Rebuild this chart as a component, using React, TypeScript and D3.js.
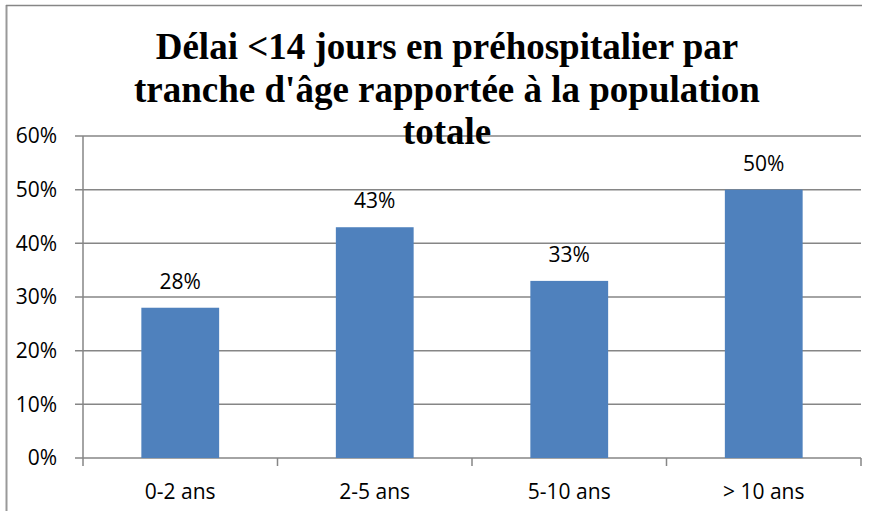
import React from "react";
import * as d3 from "d3";

const categories = ["0-2 ans", "2-5 ans", "5-10 ans", "> 10 ans"];
const values = [0.28, 0.43, 0.33, 0.5];
const yTicks = [0, 0.1, 0.2, 0.3, 0.4, 0.5, 0.6];
const titleLines = [
  "Délai <14 jours en préhospitalier par",
  "tranche d'âge rapportée à la population",
  "totale",
];

export default function App() {
  const W = 873, H = 511;
  const left = 83, right = 861, top = 136, bottom = 458;
  const x = d3.scaleBand<string>().domain(categories).range([left, right]).paddingInner(0.6).paddingOuter(0.3);
  const xb = d3.scaleBand<string>().domain(categories).range([left, right]);
  const y = d3.scaleLinear().domain([0, 0.6]).range([bottom, top]);
  const fmt = d3.format(".0%");
  const grid = "#868686";
  const font = "Open Sans, sans-serif";
  const fs = 21;
  const serif = "'Liberation Serif', 'Times New Roman', Times, Tinos, 'DejaVu Serif', 'Noto Serif', serif";
  return (
    <svg width={W} height={H} style={{ position: "absolute", left: 0, top: 0 }}>
      <rect x={0} y={0} width={W} height={H} fill="#fff" />
      <line x1={6.5} x2={6.5} y1={5} y2={H} stroke="#999" strokeWidth={2} />
      <line x1={6} x2={862} y1={5.5} y2={5.5} stroke={grid} strokeWidth={1.5} />
      {yTicks.map((t) => (
        <g key={t}>
          <line x1={75} x2={right} y1={y(t)} y2={y(t)} stroke={grid} strokeWidth={1.5} />
          <text x={57} y={y(t)} dy="0.35em" textAnchor="end" fontFamily={font} fontSize={fs} fill="#000">
            {fmt(t)}
          </text>
        </g>
      ))}
      <line x1={left} x2={left} y1={top} y2={bottom} stroke={grid} strokeWidth={1.5} />
      {categories.map((c, i) => (
        <line key={"t" + i} x1={xb(c)!} x2={xb(c)!} y1={bottom} y2={bottom + 8} stroke={grid} strokeWidth={1.5} />
      ))}
      <line x1={right} x2={right} y1={bottom} y2={bottom + 8} stroke={grid} strokeWidth={1.5} />
      {categories.map((c, i) => (
        <g key={c}>
          <rect x={x(c)!} y={y(values[i])} width={x.bandwidth()} height={bottom - y(values[i])} fill="#4F81BD" />
          <text x={x(c)! + x.bandwidth() / 2} y={y(values[i]) - 19} textAnchor="middle" fontFamily={font} fontSize={fs} fill="#000">
            {fmt(values[i])}
          </text>
          <text x={xb(c)! + xb.bandwidth() / 2} y={bottom + 41} textAnchor="middle" fontFamily={font} fontSize={fs} fill="#000">
            {c}
          </text>
        </g>
      ))}
      {titleLines.map((l, i) => (
        <text key={i} x={447} y={59 + i * 42.5} textAnchor="middle" style={{ fontFamily: serif, fontWeight: 700, fontSize: 37 }} fill="#000">
          {l}
        </text>
      ))}
    </svg>
  );
}
